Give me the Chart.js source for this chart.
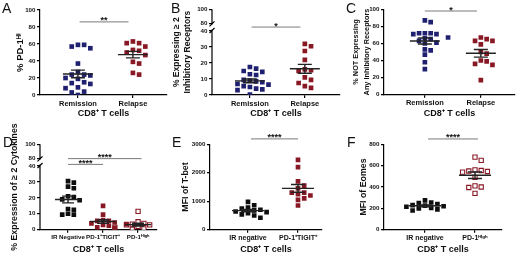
<!DOCTYPE html>
<html>
<head>
<meta charset="utf-8">
<script src="https://cdn.jsdelivr.net/npm/chart.js@4.4.0/dist/chart.umd.min.js"></script>
<style>
  html, body { margin: 0; padding: 0; background: #fff; }
  #wrap { position: relative; width: 520px; height: 255px; overflow: hidden; }
  #wrap canvas { position: absolute; left: 0; top: 0; }
  .tag { position: absolute; font: 14px 'Liberation Sans', Arial, sans-serif; color: #111; line-height: 16px; }
</style>
</head>
<body>
<div id="wrap">
  <canvas id="cA" width="520" height="280"></canvas>
  <canvas id="cB" width="520" height="280"></canvas>
  <canvas id="cC" width="520" height="280"></canvas>
  <canvas id="cD" width="520" height="280"></canvas>
  <canvas id="cE" width="520" height="280"></canvas>
  <canvas id="cF" width="520" height="280"></canvas>
  <div class="tag" style="left:2px;top:0px">A</div>
  <div class="tag" style="left:171px;top:0px">B</div>
  <div class="tag" style="left:346px;top:0px">C</div>
  <div class="tag" style="left:3px;top:134px">D</div>
  <div class="tag" style="left:172px;top:134px">E</div>
  <div class="tag" style="left:347px;top:134px">F</div>
</div>
<script>
// categories
const groupsRem = ['Remission', 'Relapse'];
const groupsD = ['IR Negative', 'PD-1⁺TIGIT⁺', 'PD-1ᴴⁱᵍʰ'];
const groupsE = ['IR negative', 'PD-1⁺TIGIT⁺'];
const groupsF = ['IR negative', 'PD-1ᴴⁱᵍʰ'];

// y tick labels
const ticksPct = [0, 20, 40, 60, 80, 100];
const ticksBroken = [0, 10, 20, 30, 40, 80, 100];
const ticksTbet = [0, 1000, 2000, 3000];
const ticksEomes = [0, 200, 400, 600, 800];

// A: % PD-1 hi
const pd1Remission = [59, 57, 55, 59, 37, 27, 24, 23, 24, 20, 19, 15, 14, 13, 9, 8, 4, 3, 0];
const pd1Relapse = [63, 61, 61, 57, 53, 52, 50, 47, 39, 37, 26, 24];
// B: % expressing >= 2 inhibitory receptors
const ir2Remission = [17.5, 16.5, 15, 14.5, 13, 12.5, 9.5, 9, 8.5, 8, 7, 6.5, 5.5, 5, 4, 3.5, 3, 0.2];
const ir2Relapse = [32, 30.5, 27.5, 22, 16, 15.5, 15, 11, 9.5, 7.5, 5.5, 4.5];
// C: % not expressing any inhibitory receptor
const noIrRemission = [87, 85, 72, 72, 71, 72, 71, 67, 66, 65, 63, 61, 60, 53, 52, 47, 38, 30];
const noIrRelapse = [67, 65, 63, 63, 59, 50, 48, 40, 39, 36, 35, 17];
// D: % expression of >= 2 cytokines
const cytoIrNeg = [30.5, 29.5, 27, 26, 21, 20.5, 19, 18.5, 13, 12.5, 10, 9.5, 9.5];
const cytoPdTigit = [15, 9.5, 6, 5.5, 5.5, 4.5, 4, 3.5, 3, 2.5, 1.5, 0.8];
const cytoPdHigh = [11.5, 5, 4, 3.5, 3, 3, 2.5, 2, 1.5, 1.5, 0.5, 0.3];
// E: MFI of T-bet
const tbetIrNeg = [980, 860, 780, 740, 700, 680, 640, 620, 580, 540, 500, 420];
const tbetPdTigit = [2450, 2200, 1700, 1550, 1450, 1300, 1300, 1250, 1200, 1100, 1050, 850];
// F: MFI of Eomes
const eomesIrNeg = [275, 255, 250, 240, 230, 225, 220, 215, 205, 200, 190, 180];
const eomesPdHigh = [680, 650, 560, 555, 550, 545, 540, 490, 410, 400, 395, 340];

const FAMILY = "'Liberation Sans', Arial, sans-serif";
const NAVY = 'rgb(32,32,112)';
const DRED = 'rgb(136,24,36)';
const BLACK = 'rgb(14,14,14)';
const CW = 520, CH = 280;

// broken y axis (B, D): 0-40 normal, then a gap, then 80-100 squeezed
const GAP = 4.8, UPPER = 0.44;
function brk(v) { return v <= 40 ? v : 40 + GAP + (v - 80) * UPPER; }
function unbrk(t) { return t <= 40 ? t : 80 + (t - 40 - GAP) / UPPER; }

function meanSem(vals) {
  const n = vals.length;
  const m = vals.reduce((a, b) => a + b, 0) / n;
  const sd = Math.sqrt(vals.reduce((a, b) => a + (b - m) * (b - m), 0) / (n - 1));
  return [m, sd / Math.sqrt(n)];
}

function buildPanel(p) {
  const tf = v => p.broken ? brk(v) : v;
  const titleLH = p.titleSize * p.titleLine;
  const padL = p.titleX - titleLH / 2;
  const xTitleLH = 9 * 1.2;
  const xH = p.xTitleY - p.bottom + xTitleLH / 2;

  const datasets = p.series.map((vals, i) => ({
    values: vals,
    data: vals.map(v => ({ x: i, y: tf(v) })),
    pointStyle: 'rect',
    pointRadius: p.open[i] ? 3.0 : 3.3,
    backgroundColor: p.open[i] ? '#fff' : p.colors[i],
    borderColor: p.colors[i],
    borderWidth: p.open[i] ? 1.1 : 0
  }));

  const meanPlugin = {
    id: 'meanSem',
    afterDatasetsDraw(chart) {
      const c = chart.ctx, xs = chart.scales.x, ys = chart.scales.y;
      c.save();
      c.strokeStyle = '#222';
      c.lineWidth = 1.4;
      datasets.forEach((ds, i) => {
        const [m, se] = meanSem(ds.values);
        const cx = xs.getPixelForValue(i);
        const ym = ys.getPixelForValue(tf(m));
        const yh = ys.getPixelForValue(tf(m + se));
        const yl = ys.getPixelForValue(tf(m - se));
        c.beginPath();
        c.moveTo(cx - p.meanW, ym); c.lineTo(cx + p.meanW, ym);
        c.moveTo(cx - p.semW, yh); c.lineTo(cx + p.semW, yh);
        c.moveTo(cx - p.semW, yl); c.lineTo(cx + p.semW, yl);
        c.moveTo(cx, yh); c.lineTo(cx, yl);
        c.stroke();
      });
      c.restore();
    }
  };

  const sigPlugin = {
    id: 'sigBars',
    afterDraw(chart) {
      const c = chart.ctx, xs = chart.scales.x, ys = chart.scales.y;
      c.save();
      p.sig.forEach(s => {
        const x1 = xs.getPixelForValue(s.from), x2 = xs.getPixelForValue(s.to);
        const y = ys.getPixelForValue(s.y);
        c.strokeStyle = '#7a7a7a';
        c.lineWidth = 1;
        c.beginPath(); c.moveTo(x1, y); c.lineTo(x2, y); c.stroke();
        c.fillStyle = '#111';
        c.font = 'bold 9px ' + FAMILY;
        c.textAlign = 'center';
        c.textBaseline = 'alphabetic';
        c.fillText(s.text, (x1 + x2) / 2, y + 1.5);
      });
      c.restore();
    }
  };

  const breakPlugin = {
    id: 'breakAxis',
    afterDraw(chart) {
      if (!p.broken) return;
      const c = chart.ctx, ys = chart.scales.y, x = chart.chartArea.left;
      const yTop = ys.getPixelForValue(brk(100)), y80 = ys.getPixelForValue(brk(80));
      const y40 = ys.getPixelForValue(40), y0 = ys.getPixelForValue(0);
      c.save();
      c.strokeStyle = '#000';
      c.lineWidth = 1.2;
      c.beginPath();
      c.moveTo(x, yTop); c.lineTo(x, y80 + 1.5);
      c.moveTo(x, y40 - 1.5); c.lineTo(x, y0);
      c.moveTo(x - 2.5, y80 + 3); c.lineTo(x + 2.5, y80 - 2);
      c.moveTo(x - 2.5, y40 + 2); c.lineTo(x + 2.5, y40 - 3);
      c.stroke();
      c.restore();
    }
  };

  const chart = new Chart(document.getElementById(p.id), {
    type: 'scatter',
    data: { datasets },
    options: {
      responsive: false,
      animation: false,
      events: [],
      layout: { padding: { left: padL, top: p.top, right: CW - p.right, bottom: CH - p.bottom - xH } },
      plugins: { legend: { display: false }, tooltip: { enabled: false } },
      scales: {
        x: {
          type: 'linear', min: p.xMin, max: p.xMax,
          afterFit: s => { s.height = xH; },
          afterBuildTicks: s => { s.ticks = p.groups.map((g, i) => ({ value: i })); },
          ticks: {
            callback: v => p.groups[Math.round(v)],
            color: '#111', font: { size: p.catSize, weight: 'bold', family: FAMILY },
            padding: 1, maxRotation: 0, autoSkip: false
          },
          grid: { drawOnChartArea: false, drawTicks: true, tickLength: 3, color: '#000', lineWidth: 1.2 },
          border: { color: '#000', width: 1.2 },
          title: { display: true, text: 'CD8⁺ T cells', color: '#111', padding: 0,
                   font: { size: 9, weight: 'bold', family: FAMILY, lineHeight: 1.2 } }
        },
        y: {
          type: 'linear', min: 0, max: tf(p.yTicks[p.yTicks.length - 1]),
          afterFit: s => { s.width = p.axisX - padL; },
          afterBuildTicks: s => { s.ticks = p.yTicks.map(v => ({ value: tf(v) })); },
          ticks: {
            callback: v => p.broken ? Math.round(unbrk(v)) : v,
            color: '#111', font: { size: 6.2, weight: 'bold', family: FAMILY }, padding: 1.5
          },
          grid: { drawOnChartArea: false, drawTicks: true, tickLength: 3, color: '#000', lineWidth: 1.2 },
          border: { display: !p.broken, color: '#000', width: 1.2 },
          title: { display: true, text: p.title, color: '#111', padding: 0,
                   font: { size: p.titleSize, weight: 'bold', family: FAMILY, lineHeight: p.titleLine } }
        }
      }
    },
    plugins: [meanPlugin, sigPlugin, breakPlugin]
  });

  // spread points sideways like a GraphPad scatter
  const xs = chart.scales.x, ys = chart.scales.y;
  const ppu = xs.getPixelForValue(1) - xs.getPixelForValue(0);
  const DX = p.dx, DY = p.dy;
  chart.data.datasets.forEach((ds, i) => {
    const placed = [];
    const order = ds.values.map((v, k) => k).sort((a, b) => ds.values[b] - ds.values[a]);
    order.forEach(k => {
      const py = ys.getPixelForValue(ds.data[k].y);
      let off = 0;
      for (let n = 0; n < 30; n++) {
        const cand = n === 0 ? 0 : (n % 2 ? 1 : -1) * Math.ceil(n / 2) * DX;
        if (!placed.some(q => Math.abs(q.x - cand) < DX && Math.abs(q.y - py) < DY)) { off = cand; break; }
      }
      placed.push({ x: off, y: py });
      ds.data[k].x = i + off / ppu;
    });
  });
  chart.update('none');
  return chart;
}

buildPanel({
  id: 'cA', groups: groupsRem, series: [pd1Remission, pd1Relapse],
  colors: [NAVY, DRED], open: [false, false], catSize: 7.5, dx: 6.2, dy: 6,
  yTicks: ticksPct, title: '% PD-1ᴴⁱ', titleSize: 9.5, titleLine: 1.2, titleX: 20,
  axisX: 40, top: 10, bottom: 95, right: 167, xMin: -0.69, xMax: 1.62, xTitleY: 114,
  meanW: 15, semW: 7, sig: [{ from: 0.03, to: 0.92, y: 86, text: '**' }]
});
buildPanel({
  id: 'cB', groups: groupsRem, series: [ir2Remission, ir2Relapse],
  colors: [NAVY, DRED], open: [false, false], broken: true, catSize: 7.5, dx: 6.2, dy: 6,
  yTicks: ticksBroken, title: ['% Expressing ≥ 2', 'Inhibitory Receptors'], titleSize: 8.5, titleLine: 1.3, titleX: 177,
  axisX: 212, top: 9.3, bottom: 95, right: 340, xMin: -0.69, xMax: 1.64, xTitleY: 114,
  meanW: 15, semW: 7, sig: [{ from: 0.03, to: 0.92, y: 42.5, text: '*' }]
});
buildPanel({
  id: 'cC', groups: groupsRem, series: [noIrRemission, noIrRelapse],
  colors: [NAVY, DRED], open: [false, false], catSize: 7.5, dx: 5.8, dy: 4.6,
  yTicks: ticksPct, title: ['% NOT Expressing', 'Any Inhibitory Receptors'], titleSize: 7.3, titleLine: 1.5, titleX: 356,
  axisX: 384, top: 9.3, bottom: 94.7, right: 515, xMin: -0.73, xMax: 1.61, xTitleY: 114,
  meanW: 15, semW: 7, sig: [{ from: 0.0, to: 0.93, y: 98, text: '*' }]
});
buildPanel({
  id: 'cD', groups: groupsD, series: [cytoIrNeg, cytoPdTigit, cytoPdHigh],
  colors: [BLACK, DRED, DRED], open: [false, false, true], broken: true, catSize: 6.2, dx: 5.8, dy: 4.2,
  yTicks: ticksBroken, title: '% Expression of ≥ 2 Cytokines', titleSize: 8.8, titleLine: 1.2, titleX: 15,
  axisX: 40, top: 144.3, bottom: 229.7, right: 157, xMin: -0.8, xMax: 2.54, xTitleY: 250,
  meanW: 13, semW: 6,
  sig: [{ from: 0, to: 1, y: 41, text: '****' }, { from: 0, to: 2.1, y: 44.6, text: '****' }]
});
buildPanel({
  id: 'cE', groups: groupsE, series: [tbetIrNeg, tbetPdTigit],
  colors: [BLACK, DRED], open: [false, false], catSize: 7, dx: 6.2, dy: 5,
  yTicks: ticksTbet, title: 'MFI of T-bet', titleSize: 8.8, titleLine: 1.2, titleX: 186,
  axisX: 210, top: 144.3, bottom: 229.7, right: 322, xMin: -0.76, xMax: 1.48, xTitleY: 250,
  meanW: 16, semW: 7, sig: [{ from: 0.06, to: 1, y: 3190, text: '****' }]
});
buildPanel({
  id: 'cF', groups: groupsF, series: [eomesIrNeg, eomesPdHigh],
  colors: [BLACK, DRED], open: [false, true], catSize: 7, dx: 6.2, dy: 5,
  yTicks: ticksEomes, title: 'MFI of Eomes', titleSize: 8.8, titleLine: 1.2, titleX: 364,
  axisX: 384, top: 144.3, bottom: 229.7, right: 502, xMin: -0.82, xMax: 1.54, xTitleY: 250,
  meanW: 16, semW: 7, sig: [{ from: 0.06, to: 1.06, y: 850, text: '****' }]
});
</script>
</body>
</html>
